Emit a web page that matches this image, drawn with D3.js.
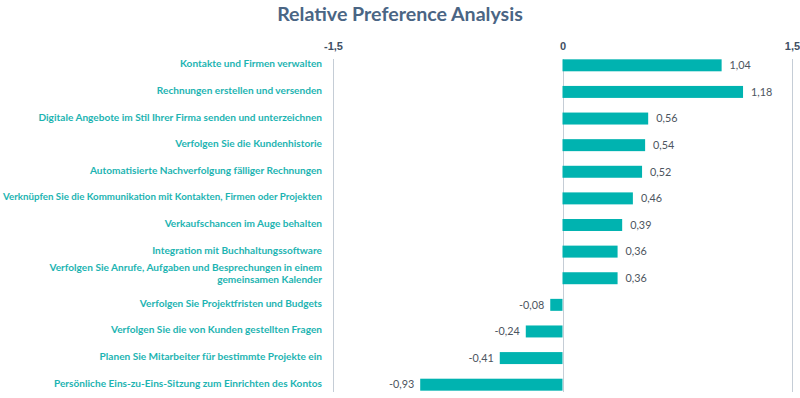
<!DOCTYPE html>
<meta charset="utf-8">
<script src="https://cdn.jsdelivr.net/npm/d3@7"></script>
<style>
  body { margin: 0; background: #fff; }
  svg { font-family: Lato, "Open Sans", sans-serif; }
  .title { font-size: 19.6px; font-weight: bold; fill: #4a6584; }
  .cat { font-size: 10.1px; font-weight: bold; fill: #1db4b2; }
  .val { font-size: 10.8px; fill: #4d5560; }
  .tick text { font-size: 11px; font-weight: bold; fill: #3f5064; }
</style>
<body>
<div id="chart"></div>
<script>
// data
var categories = [
  "Kontakte und Firmen verwalten",
  "Rechnungen erstellen und versenden",
  "Digitale Angebote im Stil Ihrer Firma senden und unterzeichnen",
  "Verfolgen Sie die Kundenhistorie",
  "Automatisierte Nachverfolgung fälliger Rechnungen",
  "Verknüpfen Sie die Kommunikation mit Kontakten, Firmen oder Projekten",
  "Verkaufschancen im Auge behalten",
  "Integration mit Buchhaltungssoftware",
  "Verfolgen Sie Anrufe, Aufgaben und Besprechungen in einem|gemeinsamen Kalender",
  "Verfolgen Sie Projektfristen und Budgets",
  "Verfolgen Sie die von Kunden gestellten Fragen",
  "Planen Sie Mitarbeiter für bestimmte Projekte ein",
  "Persönliche Eins-zu-Eins-Sitzung zum Einrichten des Kontos"
];
var values = [1.04, 1.18, 0.56, 0.54, 0.52, 0.46, 0.39, 0.36, 0.36, -0.08, -0.24, -0.41, -0.93];
var tickValues = [-1.5, 0, 1.5];

var width = 800, height = 398;

var de = d3.formatLocale({decimal: ",", thousands: ".", grouping: [3], currency: ["", " €"], minus: "-"});
var fmtVal = de.format(".2f");
var fmtTick = de.format(".1~f");

var svg = d3.select("#chart").append("svg")
    .attr("width", width)
    .attr("height", height);

var x = d3.scaleLinear().domain([-1.5, 1.5]).range([333, 792]);
var y = d3.scaleBand()
    .domain(d3.range(categories.length))
    .range([52, 398])
    .paddingInner(0.55)
    .paddingOuter(0.275);

svg.append("text")
    .attr("class", "title")
    .attr("x", 400)
    .attr("y", 21)
    .attr("text-anchor", "middle")
    .text("Relative Preference Analysis");

// grid lines
svg.append("g")
  .selectAll("line")
  .data(tickValues)
  .enter().append("line")
    .attr("x1", function(d) { return Math.round(x(d)) + 0.5; })
    .attr("x2", function(d) { return Math.round(x(d)) + 0.5; })
    .attr("y1", 59)
    .attr("y2", 392)
    .attr("stroke", "#c5cdd6")
    .attr("stroke-width", 1);

// top axis labels
var axis = svg.append("g")
    .attr("transform", "translate(0,50)")
    .call(d3.axisTop(x).tickValues(tickValues).tickFormat(fmtTick).tickSize(0).tickPadding(0));
axis.select(".domain").remove();

// bars
svg.append("g")
  .selectAll("rect")
  .data(values)
  .enter().append("rect")
    .attr("x", function(d) { return x(Math.min(0, d)); })
    .attr("y", function(d, i) { return y(i); })
    .attr("width", function(d) { return Math.abs(x(d) - x(0)); })
    .attr("height", y.bandwidth())
    .attr("fill", "#00b3b0");

// value labels
svg.append("g")
  .selectAll("text")
  .data(values)
  .enter().append("text")
    .attr("class", "val")
    .attr("x", function(d) { return d >= 0 ? x(d) + 8 : x(d) - 6; })
    .attr("y", function(d, i) { return y(i) + y.bandwidth() / 2; })
    .attr("dy", "0.35em")
    .attr("text-anchor", function(d) { return d >= 0 ? "start" : "end"; })
    .text(fmtVal);

// category labels
var cat = svg.append("g")
  .selectAll("text")
  .data(categories)
  .enter().append("text")
    .attr("class", "cat")
    .attr("text-anchor", "end")
    .attr("x", 322)
    .attr("y", function(d, i) {
      var lines = d.split("|").length;
      return y(i) + y.bandwidth() / 2 - 1.5 - (lines - 1) * 9.5;
    });

cat.each(function(d) {
  var t = d3.select(this);
  d.split("|").forEach(function(line, k) {
    var ts = t.append("tspan")
      .attr("x", 322)
      .attr("dy", k === 0 ? "0.35em" : "12px")
      .text(line);
    // keep the longest label inside the left edge
    if (ts.node().getComputedTextLength() > 319) {
      ts.attr("textLength", 319).attr("lengthAdjust", "spacingAndGlyphs");
    }
  });
});
</script>
</body>
</html>
